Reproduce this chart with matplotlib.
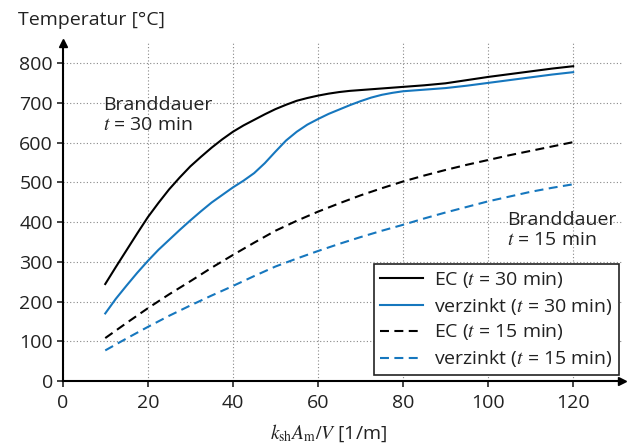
import matplotlib
matplotlib.use("Agg")
import matplotlib.pyplot as plt

plt.rcParams['font.family'] = ['Open Sans', 'DejaVu Sans']
plt.rcParams['mathtext.fontset'] = 'stix'

x_solid = [10, 12.5, 15, 17.5, 20, 22.5, 25, 27.5, 30, 32.5, 35, 37.5, 40, 42.5, 45, 47.5, 50,
           52.5, 55, 57.5, 60, 62.5, 65, 67.5, 70, 72.5, 75, 77.5, 80,
           85, 90, 95, 100, 105, 110, 115, 120]
ec_30 = [244, 287, 329, 371, 412, 448, 482, 512, 540, 564, 587, 608, 627, 643, 657, 671, 684,
         695, 705, 712, 718, 723, 727, 730, 732, 734, 736, 738, 740,
         744, 749, 757, 765, 772, 779, 786, 792]
vz_30 = [170, 207, 240, 272, 302, 330, 355, 380, 404, 427, 449, 468, 487, 504, 523, 548, 577,
         605, 627, 645, 659, 672, 683, 694, 704, 713, 720, 725, 729,
         733, 737, 743, 750, 757, 764, 771, 777]

x_dash = [10, 15, 20, 25, 30, 35, 40, 45, 50, 55, 60, 65, 70, 75, 80, 85, 90, 95, 100, 105, 110, 115, 120]
ec_15 = [108, 146, 183, 218, 251, 285, 317, 348, 378, 403, 426, 447, 467, 485, 502, 517, 531, 544, 556, 568, 579, 590, 601]
vz_15 = [77, 107, 136, 164, 190, 215, 239, 264, 288, 308, 327, 345, 362, 378, 393, 409, 424, 438, 452, 464, 476, 486, 495]

xticks = [0, 20, 40, 60, 80, 100, 120]
yticks = [0, 100, 200, 300, 400, 500, 600, 700, 800]

black = '#000000'
blue = '#1677be'
txt = '#222222'
fs = 14

fig = plt.figure(figsize=(6.29, 4.45), dpi=100)
ax = fig.add_axes([0.0997, 0.1438, 0.989 - 0.0997, 0.903 - 0.1438])

ax.plot(x_solid, ec_30, color=black, lw=1.5, label='EC ($t$ = 30 min)')
ax.plot(x_solid, vz_30, color=blue, lw=1.5, label='verzinkt ($t$ = 30 min)')
ax.plot(x_dash, ec_15, color=black, lw=1.5, dashes=(4.3, 2.6), label='EC ($t$ = 15 min)')
ax.plot(x_dash, vz_15, color=blue, lw=1.5, dashes=(4.3, 2.6), label='verzinkt ($t$ = 15 min)')

ax.set_xlim(0, 131.5)
ax.set_ylim(0, 850)
ax.set_xticks(xticks)
ax.set_yticks(yticks)
ax.tick_params(labelsize=fs, colors=txt, length=4.5, width=1.2, direction='out', pad=2.5)
ax.tick_params(axis='x', pad=5)
ax.grid(True, linestyle=(0, (1, 2)), color='#888888', lw=0.8)
for s in ['top', 'right']:
    ax.spines[s].set_visible(False)
for s in ['left', 'bottom']:
    ax.spines[s].set_linewidth(1.5)
ax.plot(1, 0, '>', color='k', ms=6, transform=ax.transAxes, clip_on=False)
ax.plot(0, 1, '^', color='k', ms=6, transform=ax.transAxes, clip_on=False)

ax.text(9.5, 718, 'Branddauer\n$t$ = 30 min', fontsize=fs, color=txt, va='top', ha='left', linespacing=1.15)
ax.text(104.5, 428, 'Branddauer\n$t$ = 15 min', fontsize=fs, color=txt, va='top', ha='left', linespacing=1.15)

leg = ax.legend(loc='upper left', bbox_to_anchor=(374 / 629, 1 - 264 / 445), bbox_transform=fig.transFigure,
                fontsize=fs, frameon=True, fancybox=False, framealpha=1, edgecolor='#222222',
                handlelength=2.2, handletextpad=0.6, borderpad=0.3, labelspacing=0.3, borderaxespad=0)
leg.get_frame().set_linewidth(1.2)
for t in leg.get_texts():
    t.set_color(txt)

fig.text(18 / 629, 1 - 20 / 445, 'Temperatur [°C]', fontsize=fs, color=txt, ha='left', va='center')
fig.text(329 / 629, 1 - 433 / 445, r'$k_{\mathrm{sh}}A_{\mathrm{m}}/V$ [1/m]', fontsize=fs, color=txt, ha='center', va='center')

fig.savefig('out.png', dpi=100)
